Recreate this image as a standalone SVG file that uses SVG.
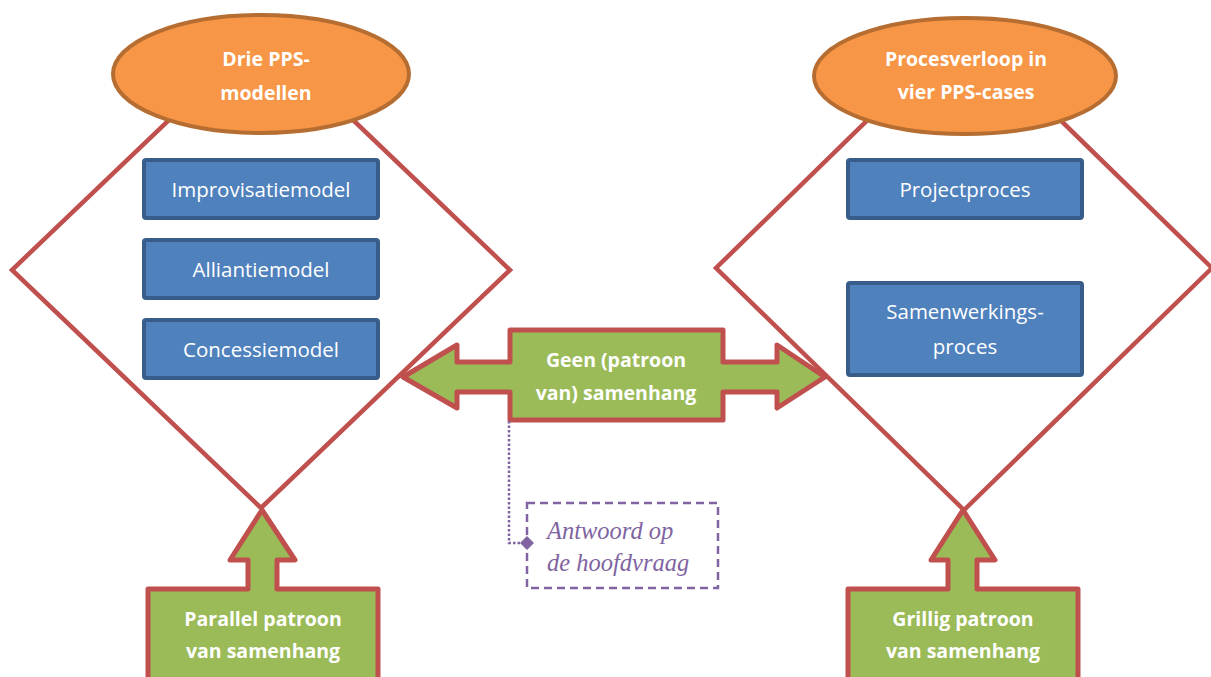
<svg xmlns="http://www.w3.org/2000/svg" width="1211" height="677" viewBox="0 0 1211 677">
  <style>
    .diamond { fill: none; stroke: #C0504D; stroke-width: 4.5; stroke-linejoin: miter; }
    .oval { fill: #F79646; stroke: #B66D31; stroke-width: 4; }
    .oval-text { font-family: "Open Sans", "Liberation Sans", sans-serif; font-weight: bold; font-size: 19.5px; fill: #FFFFFF; text-anchor: middle; }
    .box { fill: #4F81BD; stroke: #385D8A; stroke-width: 4; }
    .box-text { font-family: "Open Sans", "Liberation Sans", sans-serif; font-size: 20.5px; fill: #FFFFFF; text-anchor: middle; }
    .arrow { fill: #9BBB59; stroke: #C0504D; stroke-width: 5; stroke-linejoin: round; }
    .arrow-text { font-family: "Open Sans", "Liberation Sans", sans-serif; font-weight: bold; font-size: 19.5px; fill: #FFFFFF; text-anchor: middle; }
    .callout { fill: none; stroke: #8064A2; stroke-width: 2.5; stroke-dasharray: 8 5; }
    .callout-text { font-family: "Liberation Serif", "DejaVu Serif", serif; font-style: italic; font-size: 24.5px; fill: #8064A2; }
    .leader { fill: none; stroke: #8064A2; stroke-width: 2.5; stroke-dasharray: 2.5 2; }
  </style>

  <!-- Diamond frames -->
  <g id="connectors">
    <polygon class="diamond" points="261,32 510,270 261,508 12,270"/>
    <polygon class="diamond" points="964,26 1212,268 964,510 716,268"/>
  </g>

  <!-- Left column -->
  <g id="drie-pps-modellen">
    <ellipse class="oval" cx="261" cy="74" rx="148" ry="59"/>
    <text class="oval-text" x="266" y="66">Drie PPS-</text>
    <text class="oval-text" x="266" y="100">modellen</text>
  </g>
  <g id="improvisatiemodel">
    <rect class="box" x="144" y="160" width="234" height="58" rx="2"/>
    <text class="box-text" x="261" y="197">Improvisatiemodel</text>
  </g>
  <g id="alliantiemodel">
    <rect class="box" x="144" y="240" width="234" height="58" rx="2"/>
    <text class="box-text" x="261" y="277">Alliantiemodel</text>
  </g>
  <g id="concessiemodel">
    <rect class="box" x="144" y="320" width="234" height="58" rx="2"/>
    <text class="box-text" x="261" y="357">Concessiemodel</text>
  </g>

  <!-- Right column -->
  <g id="procesverloop">
    <ellipse class="oval" cx="965" cy="76" rx="151" ry="58"/>
    <text class="oval-text" x="966" y="66">Procesverloop in</text>
    <text class="oval-text" x="966" y="99">vier PPS-cases</text>
  </g>
  <g id="projectproces">
    <rect class="box" x="848" y="160" width="234" height="58" rx="2"/>
    <text class="box-text" x="965" y="197">Projectproces</text>
  </g>
  <g id="samenwerkingsproces">
    <rect class="box" x="848" y="283" width="234" height="92" rx="2"/>
    <text class="box-text" x="965" y="319">Samenwerkings-</text>
    <text class="box-text" x="965" y="354">proces</text>
  </g>

  <!-- Double arrow in the middle -->
  <g id="geen-samenhang">
    <path class="arrow" d="M403,377 L457,345 L457,362 L510,362 L510,330 L723,330 L723,362 L777,362 L777,345 L825,377 L777,408 L777,392 L723,392 L723,420 L510,420 L510,392 L457,392 L457,408 Z"/>
    <text class="arrow-text" x="616" y="367">Geen (patroon</text>
    <text class="arrow-text" x="616" y="400">van) samenhang</text>
  </g>

  <!-- Upward arrows at the bottom -->
  <g id="parallel-patroon">
    <path class="arrow" d="M262,510 L295,560 L277,560 L277,589 L378,589 L378,690 L148,690 L148,589 L248,589 L248,560 L230,560 Z"/>
    <text class="arrow-text" x="263" y="626">Parallel patroon</text>
    <text class="arrow-text" x="263" y="658">van samenhang</text>
  </g>
  <g id="grillig-patroon">
    <path class="arrow" d="M963,510 L995,560 L977,560 L977,589 L1078,589 L1078,690 L848,690 L848,589 L948,589 L948,560 L931,560 Z"/>
    <text class="arrow-text" x="963" y="626">Grillig patroon</text>
    <text class="arrow-text" x="963" y="658">van samenhang</text>
  </g>

  <!-- Annotation -->
  <g id="antwoord">
    <path class="leader" d="M509,421 L509,543 L522,543"/>
    <rect class="callout" x="527" y="503" width="191" height="85"/>
    <polygon points="527,536 534,543 527,550 520,543" fill="#8064A2"/>
    <text class="callout-text" x="547" y="539">Antwoord op</text>
    <text class="callout-text" x="547" y="571">de hoofdvraag</text>
  </g>
</svg>
